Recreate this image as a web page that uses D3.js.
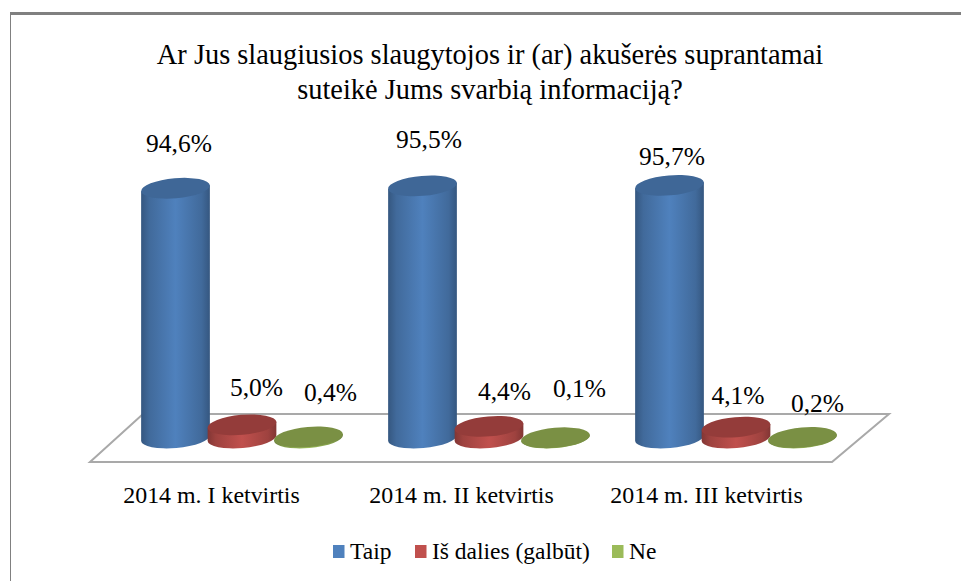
<!DOCTYPE html>
<html><head><meta charset="utf-8">
<script src="https://cdn.jsdelivr.net/npm/d3@7/dist/d3.min.js"></script>
<style>html,body{margin:0;background:#fff}svg{display:block}text{font-family:"Liberation Serif",serif;fill:#000}</style>
</head><body><svg id="c" width="961" height="581"></svg>
<script>
const titleLines = ["Ar Jus slaugiusios slaugytojos ir (ar) akušerės suprantamai","suteikė Jums svarbią informaciją?"];
const categories = ["2014 m. I ketvirtis","2014 m. II ketvirtis","2014 m. III ketvirtis"];
const seriesNames = ["Taip","Iš dalies (galbūt)","Ne"];
const taip = [94.6,95.5,95.7];
const isDalies = [5.0,4.4,4.1];
const ne = [0.4,0.1,0.2];
const colors = ["#4f81bd","#c0504d","#9bbb59"];
const tops = ["#3f6797","#943c3a","#7a9044"];
// label offsets relative to each bar's centre / top (layout only)
const labelDx = [[3.5,14.5,22],[6.5,15.5,24],[2.5,2,15]];
const labelDy = [[-36,-29,-36],[-38,-26,-41],[-20,-23,-25]];

const svg = d3.select("#c");
const defs = svg.append("defs");
const shade = (c,k)=>d3.color(c).darker(k).formatHex();
colors.forEach((c,i)=>{
  const g = defs.append("linearGradient").attr("id","g"+i);
  [[0,shade(c,1.1)],[0.12,shade(c,.55)],[0.5,c],[0.88,shade(c,.55)],[1,shade(c,1.1)]].forEach(([o,col])=>g.append("stop").attr("offset",o).attr("stop-color",col));
});
// frame
svg.append("path").attr("d","M10.5,581V14H961").attr("fill","none").attr("stroke","#808080").attr("stroke-width",1);
svg.append("path").attr("d","M10,13.5H961").attr("fill","none").attr("stroke","#808080").attr("stroke-width",3);

const x = d3.scalePoint().domain(categories).range([175.5,669.5]);
const offset = d3.scalePoint().domain(seriesNames).range([0,133]);
const y = d3.scaleLinear().domain([0,100]).range([438,174]);

// floor
const floor = [[90,462],[832,462],[889,414],[143,414]];
svg.append("path").attr("d",d3.line()(floor)+"Z").attr("fill","#fff").attr("stroke","#a9a9a9").attr("stroke-width",2);

const rx = 34.5, ry = 10;
const rot = -5;
const sets = [taip,isDalies,ne];
const bars = [];
categories.forEach((cat,ci)=>seriesNames.forEach((s,si)=>bars.push({ci,si,cat,s,v:sets[si][ci]})));
const g = svg.selectAll("g.bar").data(bars).join("g").attr("class","bar");
g.each(function(d){
  const cx = x(d.cat)+offset(d.s), y0=y(0), y1=y(d.v), sel=d3.select(this);
  const a = rot*Math.PI/180;
  const ex = Math.cos(a)*rx, ey = Math.sin(a)*rx;
  sel.append("path").attr("fill",`url(#g${d.si})`)
    .attr("d",`M${cx-ex},${y1-ey} L${cx-ex},${y0-ey} A${rx},${ry} ${rot} 0 0 ${cx+ex},${y0+ey} L${cx+ex},${y1+ey} Z`);
  sel.append("ellipse").attr("cx",cx).attr("cy",y1).attr("rx",rx).attr("ry",ry)
    .attr("transform",`rotate(${rot} ${cx} ${y1})`).attr("fill",tops[d.si]);
});
// data labels
svg.selectAll("text.val").data(bars).join("text").attr("class","val")
  .attr("x",d=>x(d.cat)+offset(d.s)+labelDx[d.ci][d.si])
  .attr("y",d=>y(d.v)+labelDy[d.ci][d.si])
  .attr("text-anchor","middle").attr("font-size",25.5)
  .text(d=>d3.format(".1f")(d.v).replace(".",",")+"%");
// title
svg.selectAll("text.title").data(titleLines).join("text").attr("class","title")
  .attr("x",490).attr("y",(d,i)=>64+i*35).attr("text-anchor","middle").attr("font-size",28.4).text(d=>d);
// category axis
const ax = d3.scaleOrdinal().domain(categories).range([211,461,706]);
svg.append("g").attr("transform","translate(0,503)").call(d3.axisBottom(ax).tickSize(0).tickPadding(0))
  .call(g=>g.select(".domain").remove())
  .selectAll("text").attr("font-size",23.9).attr("dy",0).attr("y",0).style("font-family",'"Liberation Serif",serif').attr("fill","#000");
// legend
const lx = [333,415,612];
const lg = svg.selectAll("g.leg").data(seriesNames).join("g").attr("class","leg").attr("transform",(d,i)=>`translate(${lx[i]},545)`);
lg.append("rect").attr("width",11.5).attr("height",13).attr("fill",(d,i)=>colors[i]);
lg.append("text").attr("x",17).attr("y",14).attr("font-size",23.5).text(d=>d);
</script></body></html>
